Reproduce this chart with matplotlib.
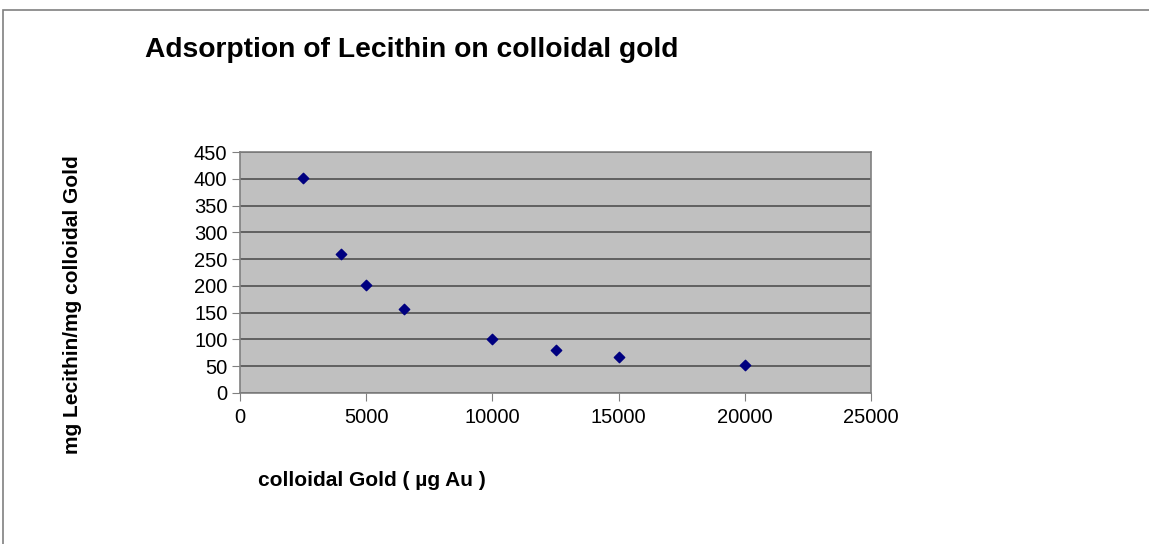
import matplotlib
matplotlib.use("Agg")
import matplotlib.pyplot as plt
from matplotlib.patches import Rectangle

gold_ug = [2500, 4000, 5000, 6500, 10000, 12500, 15000, 20000]
lecithin_ratio = [402, 259, 201, 157, 101, 81, 68, 52]
x_ticks = [0, 5000, 10000, 15000, 20000, 25000]
y_ticks = [0, 50, 100, 150, 200, 250, 300, 350, 400, 450]

plt.rcParams['font.family'] = ['Liberation Sans', 'DejaVu Sans']

W, H = 1149, 544
fig = plt.figure(figsize=(W / 100, H / 100), dpi=100)
fig.patch.set_facecolor('white')

# outer chart border
fig.patches.append(Rectangle((3 / W, -0.1), 1.2, 1 - 10 / H + 0.1,
                             transform=fig.transFigure, fill=False,
                             edgecolor='#808080', linewidth=1.2))

ax = fig.add_axes([240 / W, 1 - 393 / H, (871 - 240) / W, (393 - 152) / H])
ax.set_facecolor('#C0C0C0')
ax.scatter(gold_ug, lecithin_ratio, marker='D', s=28, color='#000080', zorder=3)

ax.set_xlim(0, 25000)
ax.set_ylim(0, 450)
ax.set_xticks(x_ticks)
ax.set_yticks(y_ticks)
ax.tick_params(axis='both', labelsize=14.5, direction='out', length=6,
               color='#808080', pad=3)
ax.tick_params(axis='x', pad=5)
ax.yaxis.grid(True, color='#505050', linewidth=1.2)
ax.set_axisbelow(True)
for s in ax.spines.values():
    s.set_color('#808080')
    s.set_linewidth(1.2)

fig.text(145 / W, 1 - 57 / H, 'Adsorption of Lecithin on colloidal gold',
         fontsize=20.3, fontweight='bold', ha='left', va='baseline')
fig.text(73 / W, 1 - 305 / H, 'mg Lecithin/mg colloidal Gold',
         fontsize=15, fontweight='bold', rotation=90, ha='center', va='center')
fig.text(258 / W, 1 - 486 / H, 'colloidal Gold ( µg Au )',
         fontsize=15, fontweight='bold', ha='left', va='baseline')

fig.savefig('out.png', dpi=100)
